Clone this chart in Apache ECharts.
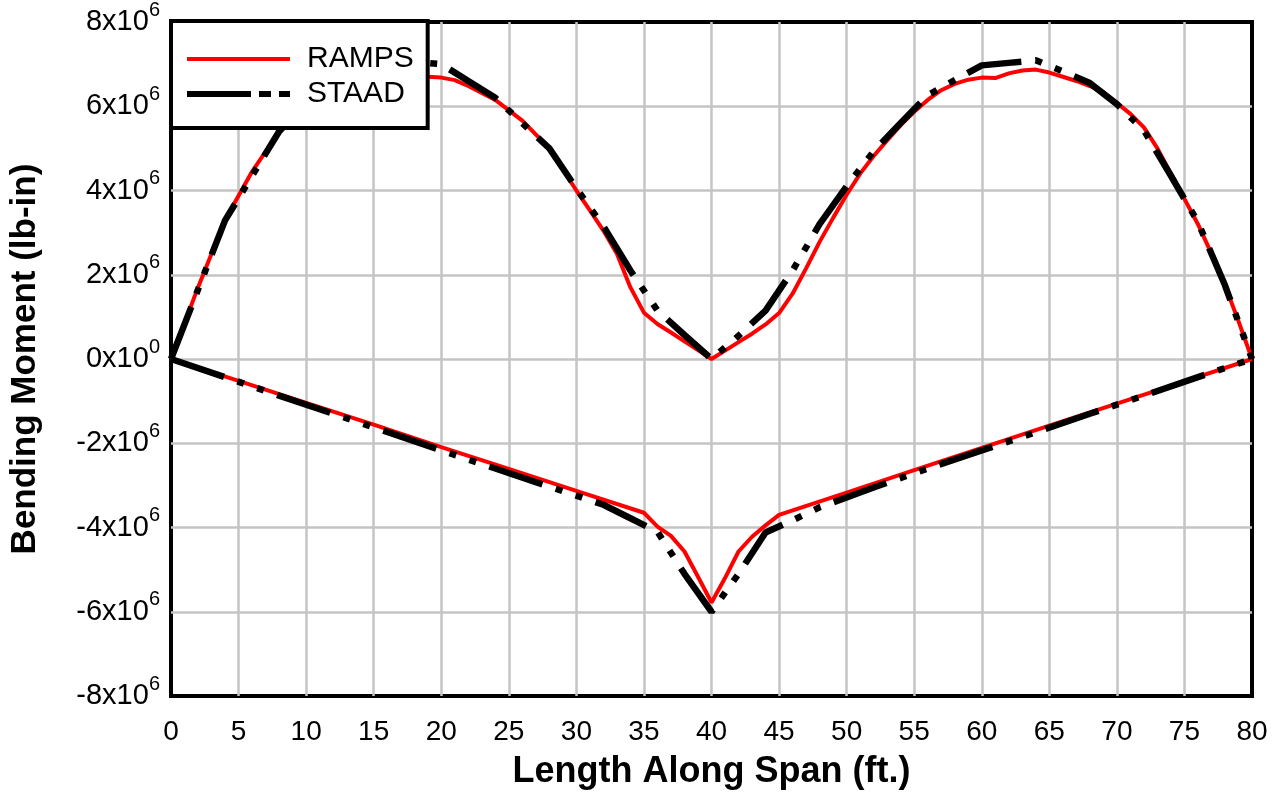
<!DOCTYPE html>
<html>
<head>
<meta charset="utf-8">
<script src="https://cdn.jsdelivr.net/npm/echarts@6/dist/echarts.min.js"></script>
<style>
html,body{margin:0;padding:0;background:#fff;}
#c{width:1282px;height:795px;}
</style>
</head>
<body>
<div id="c"></div>
<script>
// Values in units of 1e6 lb-in
const rampsPosX = [0,2,4,6,8,10,12,14,16,18,19,20,21,22,24,26,28,30,31,32,33,34,35,36,37,38,39,40,41,42,43,44,45,46,47,48,49,50,51,52,53,54,55,56,57,58,59,60,61,62,63,64,65,66,67,68,69,70,71,72,73,74,75,76,77,78,79,80];
const rampsPosY = [0,1.7,3.3,4.45,5.4,6.0,6.4,6.6,6.68,6.7,6.7,6.68,6.62,6.48,6.15,5.66,5.0,4.0,3.53,3.05,2.5,1.7,1.1,0.83,0.63,0.42,0.21,0,0.2,0.4,0.6,0.82,1.09,1.55,2.15,2.78,3.35,3.9,4.4,4.82,5.19,5.55,5.87,6.15,6.38,6.53,6.63,6.68,6.67,6.78,6.85,6.87,6.8,6.7,6.6,6.48,6.33,6.08,5.82,5.5,5.0,4.4,3.8,3.2,2.5,1.75,0.9,0];
const rampsNegX = [0,5,10,15,20,25,30,35,36,37,38,39,40,41,42,43,44,45,50,55,60,65,70,75,80];
const rampsNegY = [0,-0.52,-1.04,-1.56,-2.09,-2.61,-3.13,-3.65,-3.98,-4.2,-4.57,-5.17,-5.78,-5.2,-4.57,-4.22,-3.95,-3.7,-3.17,-2.64,-2.11,-1.58,-1.06,-0.53,0];
const staadPosX = [0,2,4,6,8,10,12,14,16,18,20,22,24,26,28,30,32,34,36,38,40,42,44,46,48,50,52,54,56,58,60,62,64,66,68,70,72,74,76,78,80];
const staadPosY = [0,1.65,3.29,4.35,5.4,6.1,6.55,6.85,7.05,7.05,7.0,6.6,6.2,5.6,5.0,4.05,3.15,2.1,1.15,0.57,0,0.55,1.15,2.1,3.2,4.1,4.93,5.6,6.26,6.62,6.97,7.03,7.09,6.83,6.55,6.05,5.43,4.35,3.25,1.75,0];
const staadNegX = [0,4,8,12,16,20,24,28,32,34,36,38,40,42,44,46,48,52,56,60,64,68,72,76,80];
const staadNegY = [0,-0.43,-0.87,-1.3,-1.73,-2.17,-2.6,-3.03,-3.46,-3.78,-4.1,-5.1,-6.0,-5.1,-4.12,-3.83,-3.52,-3.05,-2.6,-2.17,-1.74,-1.3,-0.87,-0.43,0];
const xTicks = [0,5,10,15,20,25,30,35,40,45,50,55,60,65,70,75,80];
const yTicks = [-8,-6,-4,-2,0,2,4,6,8];

function pairs(xs, ys){ return xs.map((x,i)=>[x, ys[i]*1e6]); }

const chart = echarts.init(document.getElementById('c'), null, {renderer:'canvas'});
const FONT = '"Liberation Sans", Arial, Helvetica, sans-serif';
const staadDash = [56,14,7,14,7,14];
const iconRamps = 'path://M0,0H103V4H0Z';
const iconStaad = 'path://M0,0H64V6H0Z M72,0H84V6H72Z M92,0H103V6H92Z';

chart.setOption({
  animation:false,
  backgroundColor:'#fff',
  grid:{left:171,right:30,top:21,bottom:98,show:true,borderColor:'#000',borderWidth:4,backgroundColor:'transparent'},
  legend:{
    left:171, top:21, orient:'vertical',
    data:[{name:'RAMPS',icon:iconRamps},{name:'STAAD',icon:iconStaad}],
    backgroundColor:'#fff', borderColor:'#000', borderWidth:4,
    padding:[23,14,19,16],
    itemWidth:103, itemHeight:8, itemGap:5,
    textStyle:{fontFamily:FONT,fontSize:30,lineHeight:30,color:'#000',padding:[0,0,0,12]},
    selectedMode:false
  },
  xAxis:{
    type:'value', min:0, max:80, interval:5,
    axisLine:{show:false}, axisTick:{show:false},
    splitLine:{show:true,showMinLine:false,showMaxLine:false,lineStyle:{color:'#c4c4c4',width:2.5}},
    axisLabel:{fontFamily:FONT,fontSize:28,color:'#000',margin:22,
      formatter:function(v){ return xTicks.indexOf(v)>=0 ? String(v) : ''; }},
    name:'Length Along Span (ft.)', nameLocation:'middle', nameGap:58,
    nameTextStyle:{fontFamily:FONT,fontSize:36,fontWeight:'bold',color:'#000'}
  },
  yAxis:{
    type:'value', min:-8e6, max:8e6, interval:2e6,
    axisLine:{show:false}, axisTick:{show:false},
    splitLine:{show:true,showMinLine:false,showMaxLine:false,lineStyle:{color:'#c4c4c4',width:2.5}},
    axisLabel:{margin:11,
      formatter:function(v){
        const m = Math.round(v/1e6);
        if (yTicks.indexOf(m) < 0) return '';
        if (m===0) return '{b|0x10}{s|0}';
        return '{b|'+m+'x10}{s|6}';
      },
      rich:{
        b:{fontFamily:FONT,fontSize:29,color:'#000'},
        s:{fontFamily:FONT,fontSize:20,color:'#000',padding:[0,0,24,0]}
      }
    },
    name:'Bending Moment (lb-in)', nameLocation:'middle', nameGap:128, nameRotate:90,
    nameTextStyle:{fontFamily:FONT,fontSize:35,fontWeight:'bold',color:'#000'}
  },
  series:[
    {name:'RAMPS',type:'line',data:pairs(rampsPosX,rampsPosY),symbol:'none',smooth:false,
      lineStyle:{color:'#ff0000',width:4},itemStyle:{color:'#ff0000'},z:2},
    {name:'RAMPS',type:'line',data:pairs(rampsNegX,rampsNegY),symbol:'none',smooth:false,
      lineStyle:{color:'#ff0000',width:4},itemStyle:{color:'#ff0000'},z:2},
    {name:'STAAD',type:'line',data:pairs(staadPosX,staadPosY),symbol:'none',smooth:false,
      lineStyle:{color:'#000',width:6.5,type:staadDash,cap:'butt'},itemStyle:{color:'#000'},z:3},
    {name:'STAAD',type:'line',data:pairs(staadNegX,staadNegY),symbol:'none',smooth:false,
      lineStyle:{color:'#000',width:6.5,type:staadDash,cap:'butt'},itemStyle:{color:'#000'},z:3}
  ]
});
</script>
</body>
</html>
